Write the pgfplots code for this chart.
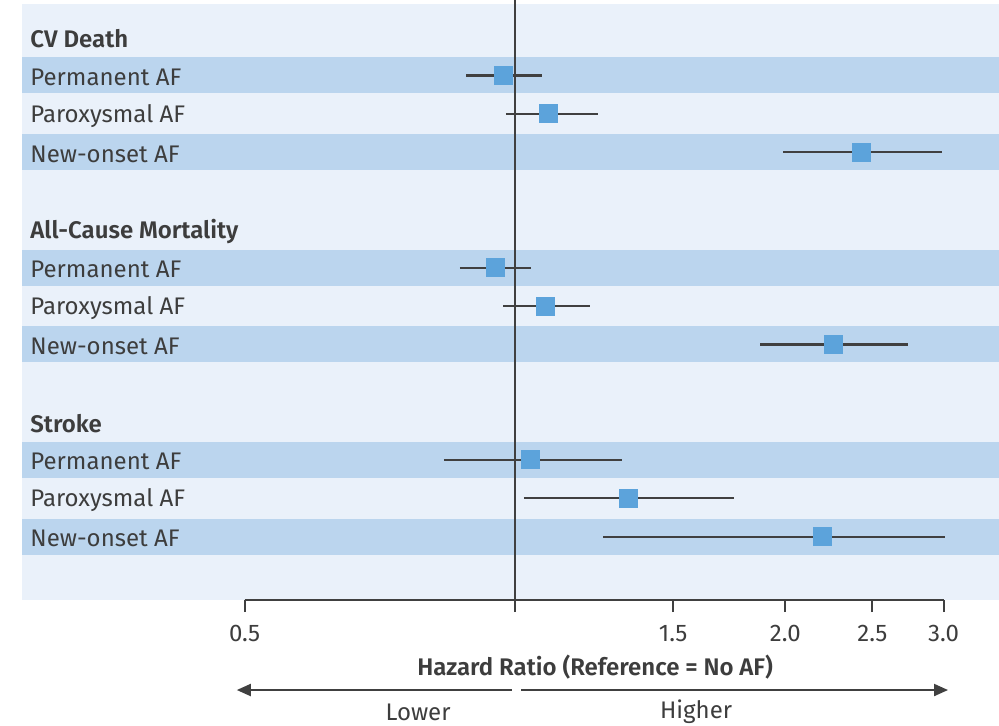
\documentclass[border=0pt]{standalone}
\usepackage{pgfplots}
\pgfplotsset{compat=1.18}
\usepackage{fontspec}
\setmainfont{Fira Sans}[BoldFont={Fira Sans SemiBold}]
\usetikzlibrary{arrows.meta}
\definecolor{bg}{HTML}{EAF1FA}
\definecolor{stripe}{HTML}{BBD5EE}
\definecolor{mk}{HTML}{5CA3DB}
\definecolor{axc}{HTML}{404040}
\definecolor{txt}{HTML}{3D3D3D}
\pgfplotstableread{
est lo hi y
0.970 0.882 1.072 1
1.088 0.977 1.237 2
2.430 1.990 2.990 3
0.950 0.868 1.042 6
1.080 0.970 1.212 7
2.260 1.875 2.740 8
1.039 0.833 1.316 11
1.337 1.023 1.755 12
2.200 1.254 3.010 13
}\hr
\pgfplotstableread{
x y
0.882 1
1.072 1
nan nan
0.977 2
1.237 2
nan nan
1.990 3
2.990 3
nan nan
0.868 6
1.042 6
nan nan
0.970 7
1.212 7
nan nan
1.875 8
2.740 8
nan nan
0.833 11
1.316 11
nan nan
1.023 12
1.755 12
nan nan
1.254 13
3.010 13
}\ci
\tikzset{rowlab/.style={anchor=west, inner sep=0pt, xshift=4pt, yshift=-1pt, text=txt, font=\fontsize{12}{14}\selectfont},
  hdrlab/.style={rowlab, font=\fontsize{12}{14}\selectfont\bfseries},
  stripefill/.style={fill=stripe, draw=none}}
\begin{document}
\begin{tikzpicture}
\useasboundingbox (-11pt,-62.5pt) rectangle (488.5pt,300pt);
\begin{axis}[at={(0,0)}, anchor=south west, scale only axis,
  width=488.5pt, height=298pt,
  xmode=log, xmin=0.2825, xmax=3.459, ymin=-0.859, ymax=14.65, y dir=reverse,
  axis background/.style={fill=bg}, axis line style={draw=none},
  ytick=\empty,
  xtick={0.5,1,1.5,2,2.5,3}, xticklabels={0.5,,1.5,2.0,2.5,3.0},
  xtick pos=bottom, tick align=outside, major tick length=6pt,
  xtick style={draw=axc, line width=1pt},
  xticklabel style={font=\fontsize{12}{14}\selectfont, text=txt, yshift=-3pt},
  clip=false]
\fill[stripefill] (axis cs:0.2825,0.532) rectangle (axis cs:3.459,1.468);
\fill[stripefill] (axis cs:0.2825,2.532) rectangle (axis cs:3.459,3.468);
\fill[stripefill] (axis cs:0.2825,5.532) rectangle (axis cs:3.459,6.468);
\fill[stripefill] (axis cs:0.2825,7.532) rectangle (axis cs:3.459,8.468);
\fill[stripefill] (axis cs:0.2825,10.532) rectangle (axis cs:3.459,11.468);
\fill[stripefill] (axis cs:0.2825,12.532) rectangle (axis cs:3.459,13.468);
\draw[axc, line width=1pt] ([yshift=2pt]axis cs:1,-0.859) -- (axis cs:1,14.65);
\draw[axc, line width=1pt] (axis cs:0.5,14.65) -- (axis cs:3,14.65);
\addplot[axc, line width=1.1pt, unbounded coords=jump] table[x=x,y=y] {\ci};
\addplot[only marks, mark=square*, mark size=4.5pt, mark options={fill=mk, draw=mk}] table[x=est,y=y] {\hr};
\node[hdrlab] at (axis cs:0.2825,0) {CV Death};
\node[rowlab] at (axis cs:0.2825,1) {Permanent AF};
\node[rowlab] at (axis cs:0.2825,2) {Paroxysmal AF};
\node[rowlab] at (axis cs:0.2825,3) {New-onset AF};
\node[hdrlab] at (axis cs:0.2825,5) {All-Cause Mortality};
\node[rowlab] at (axis cs:0.2825,6) {Permanent AF};
\node[rowlab] at (axis cs:0.2825,7) {Paroxysmal AF};
\node[rowlab] at (axis cs:0.2825,8) {New-onset AF};
\node[hdrlab] at (axis cs:0.2825,10) {Stroke};
\node[rowlab] at (axis cs:0.2825,11) {Permanent AF};
\node[rowlab] at (axis cs:0.2825,12) {Paroxysmal AF};
\node[rowlab] at (axis cs:0.2825,13) {New-onset AF};
\node[text=txt, font=\fontsize{12}{14}\selectfont\bfseries] at ([yshift=-33.5pt]axis cs:1.228,14.65) {Hazard Ratio (Reference {=} No AF)};
\draw[axc, line width=1pt, -{Triangle[length=7pt,width=6pt]}] ([yshift=-45pt]axis cs:0.992,14.65) -- ([yshift=-45pt]axis cs:0.490,14.65);
\draw[axc, line width=1pt, -{Triangle[length=7pt,width=6pt]}] ([yshift=-45pt]axis cs:1.0155,14.65) -- ([yshift=-45pt]axis cs:3.035,14.65);
\node[text=txt, font=\fontsize{12}{14}\selectfont] at ([yshift=-56pt]axis cs:0.780,14.65) {Lower};
\node[text=txt, font=\fontsize{12}{14}\selectfont] at ([yshift=-56pt]axis cs:1.591,14.65) {Higher};
\end{axis}
\end{tikzpicture}
\end{document}
